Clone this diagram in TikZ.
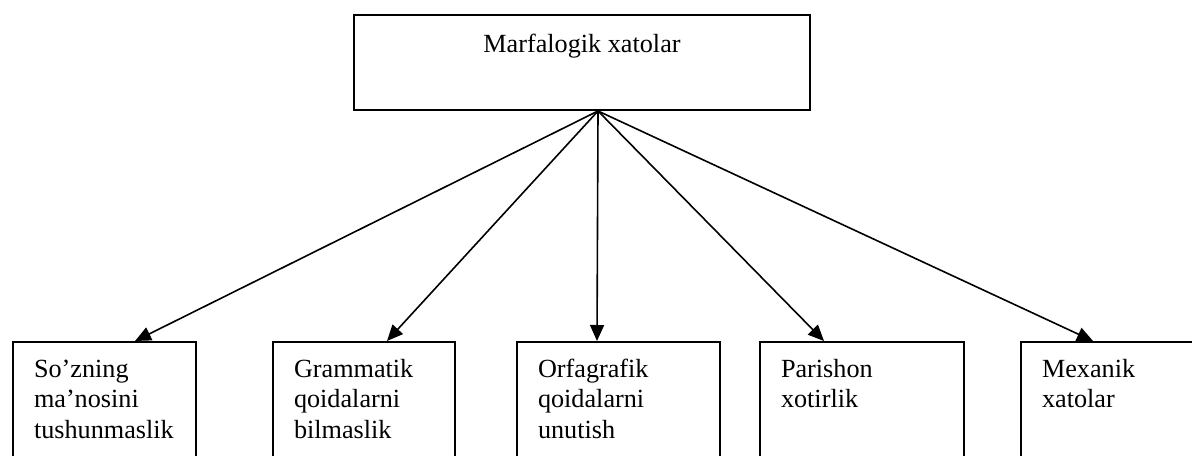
\documentclass[tikz,border=0pt]{standalone}
\usepackage{fontspec}
\setmainfont{Liberation Serif}
\usetikzlibrary{arrows.meta}

\begin{document}
\begin{tikzpicture}[x=0.5pt, y=-0.5pt,
		font=\fontsize{13.1}{15.25}\selectfont,
		topbox/.style={draw, line width=1pt, inner sep=0pt, anchor=north west},
		leafbox/.style={topbox, align=left, inner xsep=10.5pt, text height=17.5pt, text depth=80pt},
		branch/.style={-{Triangle[length=8pt, width=7pt]}, line width=0.8pt}]
		% page
		\useasboundingbox (0,0) rectangle (1192,455);
		\clip (0,0) rectangle (1192,455);
		% top box
		\node[topbox, minimum width=228pt, text height=18.5pt, text depth=29pt] (marf) at (353,14) {Marfalogik xatolar};
		\coordinate (apex) at ([xshift=8pt]marf.south);
		% leaf boxes
		\node[leafbox, text width=70.5pt] (soz) at (12,341) {So’zning\\ ma’nosini\\ tushunmaslik};
		\node[leafbox, text width=70pt] (gram) at (272,341) {Grammatik\\ qoidalarni\\ bilmaslik};
		\node[leafbox, text width=80.5pt] (orfa) at (516,341) {Orfagrafik\\ qoidalarni\\ unutish};
		\node[leafbox, text width=81pt] (pari) at (759,341) {Parishon\\ xotirlik};
		\node[leafbox, text width=70.5pt] (mexa) at (1020,341) {Mexanik\\ xatolar};
		% arrows
		\draw[branch] (apex) -- ([xshift=61.5pt]soz.north west);
		\draw[branch] (apex) -- ([xshift=57.5pt]gram.north west);
		\draw[branch] (apex) -- ([xshift=40.5pt]orfa.north west);
		\draw[branch] (apex) -- ([xshift=32.5pt]pari.north west);
		\draw[branch] (apex) -- ([xshift=36.5pt]mexa.north west);
\end{tikzpicture}
\end{document}
